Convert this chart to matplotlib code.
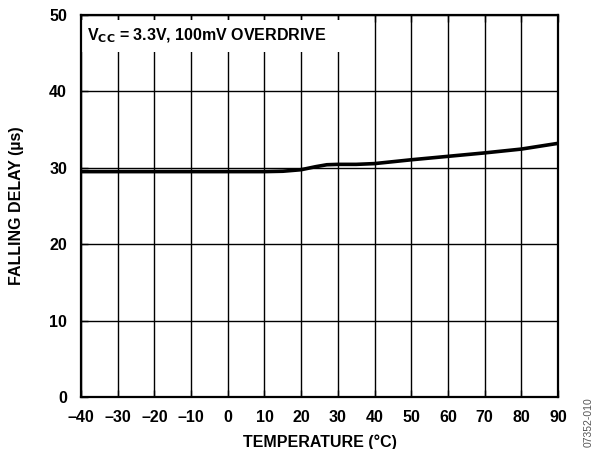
import matplotlib.pyplot as plt
from matplotlib.patches import Rectangle

plt.rcParams["font.family"] = ["Liberation Sans", "DejaVu Sans"]
plt.rcParams["font.weight"] = "bold"

temperature = [-40, -30, -20, -10, 0, 10, 15, 20, 24, 27, 30, 35, 40, 45, 50, 60, 70, 80, 90]
falling_delay = [29.5, 29.5, 29.5, 29.5, 29.5, 29.5, 29.55, 29.75, 30.15, 30.4, 30.45, 30.45, 30.55, 30.8, 31.05, 31.5, 31.95, 32.45, 33.2]

x_ticks = list(range(-40, 91, 10))
x_labels = [f"–{abs(t)}" if t < 0 else str(t) for t in x_ticks]
y_ticks = [0, 10, 20, 30, 40, 50]

fig = plt.figure(figsize=(5.97, 4.49), dpi=100)
ax = fig.add_axes([0.1357, 0.1158, 0.7990, 0.8508])

ax.set_axisbelow(True)
ax.grid(True, color="black", linewidth=1.0)

# white box behind the condition label, it hides the gridlines
ax.add_patch(Rectangle((-40, 45.2), 72, 4.15, facecolor="white", edgecolor="none", zorder=1))
ax.text(-38.3, 47.3, r"V$_{\mathbf{CC}}$ = 3.3V, 100mV OVERDRIVE", fontsize=11.5, fontweight="bold",
        va="center", ha="left", zorder=3)

ax.plot(temperature, falling_delay, color="black", linewidth=2.6, zorder=4, solid_capstyle="butt")

ax.set_xlim(-40, 90)
ax.set_ylim(0, 50)
ax.set_xticks(x_ticks)
ax.set_xticklabels(x_labels)
ax.set_yticks(y_ticks)
ax.tick_params(axis="both", direction="in", length=5, width=1.0, labelsize=11.5)
ax.tick_params(axis="x", pad=9)
ax.tick_params(axis="y", pad=10)
ax.tick_params(top=True, right=False)
for lab in ax.get_xticklabels() + ax.get_yticklabels():
    lab.set_fontweight("bold")
for sp in ax.spines.values():
    sp.set_linewidth(1.6)

ax.set_xlabel("TEMPERATURE (°C)", fontsize=11.5, fontweight="bold", labelpad=7)
ax.set_ylabel("FALLING DELAY (µs)", fontsize=11.5, fontweight="bold", labelpad=18)

fig.text(0.986, 0.06, "07352-010", rotation=90, fontsize=7.5, color="#555555",
         fontweight="normal", ha="center", va="center")

fig.savefig("out.png", dpi=100)
